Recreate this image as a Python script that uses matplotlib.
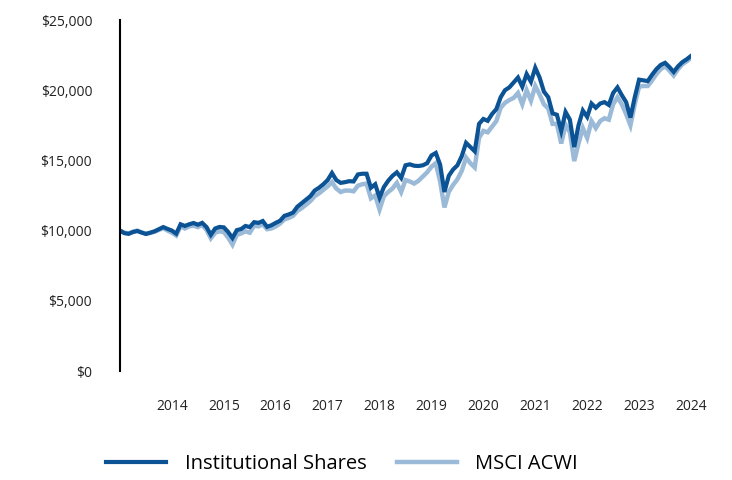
import numpy as np
import matplotlib
matplotlib.use("Agg")
import matplotlib.pyplot as plt
from matplotlib.ticker import FuncFormatter

plt.rcParams['font.family'] = ['Open Sans', 'DejaVu Sans']

# monthly growth of $10,000, Dec 2013 .. Dec 2024
inst = [10000, 9820, 9770, 9900, 9970, 9860, 9760, 9850, 9950, 10100,
        10250, 10120, 10000, 9780, 10450, 10330, 10450, 10540, 10420, 10550,
        10250, 9700, 10150, 10260, 10230, 9900, 9470, 10030, 10110, 10330,
        10250, 10600, 10550, 10680, 10270, 10380, 10550, 10700, 11050, 11150,
        11280, 11700, 11950, 12200, 12450, 12850, 13050, 13300, 13600, 14100,
        13600, 13400, 13450, 13520, 13500, 14000, 14050, 14050, 13050, 13300,
        12350, 13100, 13550, 13900, 14150, 13750, 14650, 14720, 14620, 14600,
        14650, 14800, 15350, 15530, 14700, 12750, 13900, 14350, 14650, 15300,
        16250, 15950, 15650, 17600, 17950, 17820, 18300, 18650, 19500, 20000,
        20200, 20550, 20900, 20250, 21150, 20600, 21600, 20900, 19900, 19500,
        18350, 18250, 17100, 18450, 17900, 15950, 17500, 18550, 18100, 19050,
        18750, 19050, 19150, 18950, 19800, 20200, 19650, 19150, 18050, 19500,
        20750, 20700, 20650, 21100, 21500, 21800, 21950, 21650, 21300, 21700,
        22000, 22200, 22440]

acwi = [10000, 9850, 9800, 9920, 10000, 9870, 9780, 9840, 9920, 10050,
        10180, 10000, 9850, 9650, 10300, 10150, 10300, 10350, 10250, 10400,
        10050, 9450, 9850, 9950, 9900, 9500, 9000, 9700, 9800, 9950,
        9850, 10350, 10300, 10450, 10100, 10150, 10300, 10500, 10800, 10900,
        11050, 11400, 11600, 11850, 12100, 12450, 12650, 12900, 13150, 13450,
        13000, 12750, 12850, 12850, 12800, 13200, 13300, 13350, 12300, 12500,
        11500, 12450, 12750, 13000, 13400, 12750, 13600, 13500, 13350, 13550,
        13850, 14150, 14550, 14800, 13500, 11650, 12750, 13250, 13650, 14250,
        15200, 14800, 14500, 16600, 17100, 17000, 17400, 17800, 18750, 19100,
        19300, 19450, 19800, 19000, 20000, 19250, 20300, 19700, 19000, 18700,
        17600, 17600, 16200, 17550, 17000, 14950, 16200, 17300, 16600, 17800,
        17300, 17800, 18000, 17900, 19000, 19500, 19000, 18300, 17500, 19000,
        20250, 20300, 20300, 20700, 21150, 21500, 21700, 21400, 21050, 21500,
        21850, 22050, 22300]

years = ['2014', '2015', '2016', '2017', '2018', '2019', '2020', '2021',
         '2022', '2023', '2024']

dark = '#0b5394'
light = '#9bbad8'

fig = plt.figure(figsize=(7.32, 4.8), dpi=100)
ax = fig.add_axes([120/732, 109/480, 571/732, 351/480])

months = np.arange(len(inst))
ax.plot(months, acwi, color=light, lw=3.2, solid_joinstyle='miter', label='MSCI ACWI')
ax.plot(months, inst, color=dark, lw=3.0, solid_joinstyle='miter', label='Institutional Shares')

ax.set_xlim(0, len(inst) - 1)
ax.set_ylim(0, 25000)
ax.set_yticks(np.arange(0, 25001, 5000))
ax.yaxis.set_major_formatter(FuncFormatter(lambda v, p: f'${v:,.0f}'))
ax.set_xticks(np.arange(12, len(inst), 12))
ax.set_xticklabels(years)

for s in ['top', 'right', 'bottom']:
    ax.spines[s].set_visible(False)
ax.spines['left'].set_linewidth(1.5)
ax.tick_params(axis='both', length=0, labelsize=10, colors='#222222')
ax.tick_params(axis='y', pad=20)
ax.tick_params(axis='x', pad=20)

handles, labels = ax.get_legend_handles_labels()
fig.legend(handles[::-1], labels[::-1], loc='center', bbox_to_anchor=(0.467, 0.033),
           ncol=2, frameon=False, fontsize=14.5, handlelength=3.0,
           handletextpad=0.9, columnspacing=1.5)

fig.savefig('out.png', dpi=100)
